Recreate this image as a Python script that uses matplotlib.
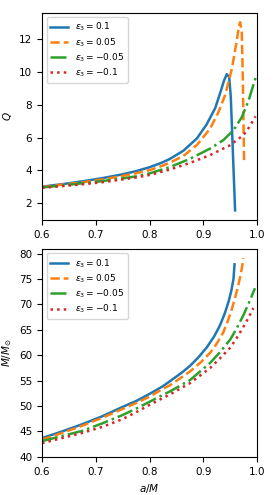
import numpy as np
import matplotlib.pyplot as plt

labels = [r"$\epsilon_3=0.1$", r"$\epsilon_3=0.05$", r"$\epsilon_3=-0.05$", r"$\epsilon_3=-0.1$"]
colors = ["#1f77b4", "#ff7f0e", "#2ca02c", "#d62728"]
styles = ["-", "--", "-.", ":"]

# top panel: Q vs a/M
a_q1 = [0.6, 0.637, 0.674, 0.712, 0.749, 0.775, 0.801, 0.823, 0.838, 0.863, 0.888, 0.906, 0.922, 0.931,
        0.9386, 0.9436, 0.948, 0.951, 0.959]
q1 = [3.0, 3.15, 3.32, 3.52, 3.75, 3.95, 4.2, 4.47, 4.7, 5.2, 5.95, 6.8, 7.8, 8.7,
      9.5, 9.88, 9.7, 8.5, 1.55]
a_q2 = [0.6, 0.637, 0.674, 0.712, 0.749, 0.775, 0.801, 0.823, 0.838, 0.863, 0.888, 0.9126, 0.928, 0.9405,
        0.953, 0.962, 0.966, 0.9684, 0.9715, 0.9733, 0.9758]
q2 = [2.98, 3.12, 3.26, 3.44, 3.65, 3.82, 4.02, 4.27, 4.47, 4.88, 5.55, 6.55, 7.55, 8.6,
      10.2, 11.9, 12.8, 13.05, 12.4, 9.7, 4.5]
a_q3 = [0.6, 0.637, 0.674, 0.712, 0.749, 0.775, 0.801, 0.838, 0.875, 0.9126, 0.937, 0.956, 0.9715, 0.984, 0.997]
q3 = [2.95, 3.07, 3.2, 3.34, 3.5, 3.63, 3.82, 4.2, 4.7, 5.33, 5.84, 6.45, 7.25, 8.25, 9.65]
a_q4 = [0.6, 0.637, 0.674, 0.712, 0.749, 0.775, 0.801, 0.838, 0.875, 0.9126, 0.95, 0.9745, 0.985, 0.997]
q4 = [2.93, 3.03, 3.14, 3.27, 3.44, 3.56, 3.72, 4.05, 4.45, 4.93, 5.54, 6.15, 6.62, 7.3]

# bottom panel: M/Msun vs a/M
a_m1 = [0.6, 0.637, 0.674, 0.712, 0.749, 0.775, 0.8, 0.823, 0.838, 0.86, 0.875, 0.89, 0.906, 0.92,
        0.931, 0.94, 0.947, 0.952, 0.956, 0.958]
m1 = [43.7, 45.0, 46.4, 48.0, 49.8, 51.0, 52.4, 53.8, 54.9, 56.6, 57.9, 59.5, 61.5, 63.7,
      65.9, 68.3, 70.6, 72.7, 75.0, 77.9]
a_m2 = [0.6, 0.637, 0.674, 0.712, 0.749, 0.775, 0.801, 0.823, 0.838, 0.875, 0.895, 0.9126, 0.925, 0.937,
        0.945, 0.953, 0.959, 0.965, 0.97, 0.9745]
m2 = [43.4, 44.7, 46.1, 47.7, 49.4, 50.6, 51.9, 53.3, 54.1, 56.8, 58.6, 60.5, 62.3, 64.5,
      66.6, 69.1, 71.3, 73.8, 76.2, 79.1]
a_m3 = [0.6, 0.637, 0.674, 0.712, 0.749, 0.775, 0.801, 0.823, 0.838, 0.875, 0.9126, 0.93, 0.95, 0.962,
        0.9745, 0.985, 0.996]
m3 = [43.1, 44.1, 45.1, 46.6, 48.2, 49.5, 50.9, 52.1, 52.9, 55.1, 58.5, 60.5, 63.1, 65.3,
      67.9, 70.4, 73.2]
a_m4 = [0.6, 0.637, 0.674, 0.712, 0.749, 0.775, 0.801, 0.838, 0.875, 0.9126, 0.93, 0.95, 0.962, 0.9745,
        0.984, 0.993]
m4 = [42.7, 43.7, 44.7, 45.9, 47.4, 48.8, 50.3, 52.3, 54.5, 57.5, 59.3, 61.5, 63.4, 65.6,
      67.4, 69.3]

plt.rcParams["font.size"] = 7.5

fig = plt.figure(figsize=(2.75, 4.95), dpi=100)
ax1 = fig.add_axes([0.153, 0.556, 0.782, 0.418])
ax2 = fig.add_axes([0.153, 0.077, 0.782, 0.42])

for a, q, lab, c, ls in zip([a_q1, a_q2, a_q3, a_q4], [q1, q2, q3, q4], labels, colors, styles):
    ax1.plot(a, q, ls, color=c, lw=1.8, label=lab)
ax1.set_xlim(0.6, 1.0)
ax1.set_ylabel(r"$Q$")
ax1.legend(loc="upper left", fontsize=6.5, labelspacing=0.3)

for a, m, lab, c, ls in zip([a_m1, a_m2, a_m3, a_m4], [m1, m2, m3, m4], labels, colors, styles):
    ax2.plot(a, m, ls, color=c, lw=1.8, label=lab)
ax2.set_xlim(0.6, 1.0)
ax2.set_ylim(bottom=40)
ax2.set_xlabel(r"$a/M$")
ax2.set_ylabel(r"$M/M_{\odot}$")
ax2.legend(loc="upper left", fontsize=6.5, labelspacing=0.3)

fig.savefig("out.png", dpi=100)
